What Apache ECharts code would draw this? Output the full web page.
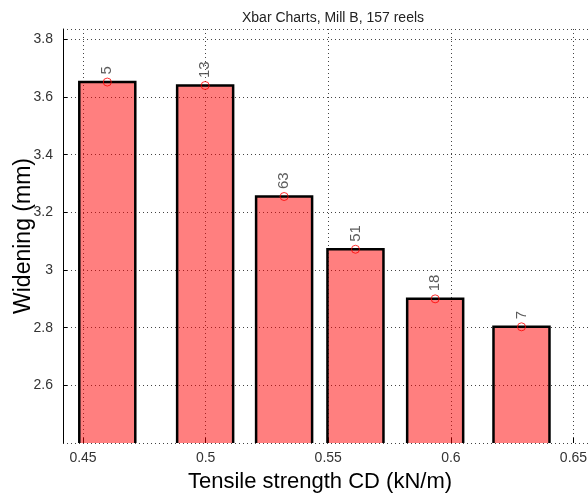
<!DOCTYPE html>
<html>
<head>
<meta charset="utf-8">
<script src="https://cdn.jsdelivr.net/npm/echarts@6/dist/echarts.min.js"></script>
<style>
html,body{margin:0;padding:0;background:#fff;}
#chart{width:588px;height:496px;}
</style>
</head>
<body>
<div id="chart"></div>
<script>
// Data
const CENTERS = [0.4599, 0.4998, 0.5320, 0.5611, 0.5936, 0.6288]; // Tensile strength CD (kN/m)
const MEANS   = [3.652, 3.640, 3.255, 3.072, 2.900, 2.803];       // Widening (mm)
const COUNTS  = [5, 13, 63, 51, 18, 7];                           // reels per bin
const TITLE   = 'Xbar Charts, Mill B, 157 reels';
const X_NAME  = 'Tensile strength CD (kN/m)';
const Y_NAME  = 'Widening (mm)';
const X_MIN = 0.44184, X_MAX = 0.66;
const Y_MIN = 2.4, Y_MAX = 3.836, Y_STEP = 0.2;

const BAR_W = 56; // px
const FONT = '"Liberation Sans", Arial, Helvetica, sans-serif';

const barData = CENTERS.map((c, i) => [c, MEANS[i]]);
const ptData = CENTERS.map((c, i) => [c, MEANS[i], COUNTS[i]]);

const chart = echarts.init(document.getElementById('chart'), null, {renderer: 'canvas'});
const gridLine = {show: true, lineStyle: {color: '#444', width: 1, type: [1, 3]}};

chart.setOption({
  animation: false,
  backgroundColor: '#fff',
  title: {
    text: TITLE, left: 328, top: 6, textAlign: 'center',
    textStyle: {fontFamily: FONT, fontSize: 14, fontWeight: 'normal', color: '#222'}
  },
  grid: {left: 63, top: 29, bottom: 53, right: -10, containLabel: false, outerBoundsMode: 'none'},
  xAxis: {
    type: 'value', min: X_MIN, max: X_MAX, splitNumber: 5,
    name: X_NAME, nameLocation: 'middle', nameGap: 28, nameMoveOverlap: false,
    nameTextStyle: {fontFamily: FONT, fontSize: 22, color: '#000', padding: [0, 21, 0, 0]},
    axisLine: {show: false},
    axisTick: {show: true, inside: true, length: 5, lineStyle: {color: '#000'}},
    axisLabel: {fontFamily: FONT, fontSize: 14, color: '#333', margin: 8,
      showMinLabel: false, showMaxLabel: false},
    splitLine: gridLine
  },
  yAxis: {
    type: 'value', min: Y_MIN, max: Y_MAX, interval: Y_STEP,
    name: Y_NAME, nameLocation: 'middle', nameGap: 28, nameMoveOverlap: false,
    nameTextStyle: {fontFamily: FONT, fontSize: 23, color: '#000'},
    axisLine: {show: true, lineStyle: {color: '#000', width: 1}},
    axisTick: {show: true, inside: true, length: 4, lineStyle: {color: '#000'}},
    axisLabel: {fontFamily: FONT, fontSize: 14, color: '#333', margin: 10,
      showMinLabel: false, showMaxLabel: false},
    splitLine: gridLine
  },
  series: [
    {
      type: 'custom',
      data: barData,
      z: 3,
      renderItem: function (params, api) {
        const top = api.coord([api.value(0), api.value(1)]);
        const base = api.coord([api.value(0), Y_MIN]);
        const hw = BAR_W / 2;
        const l = top[0] - hw, r = top[0] + hw;
        return {
          type: 'group',
          children: [
            {type: 'rect', shape: {x: l, y: top[1], width: BAR_W, height: base[1] - top[1]},
              style: {fill: 'rgba(255,0,0,0.5)'}},
            {type: 'polyline', shape: {points: [[l, base[1]], [l, top[1]], [r, top[1]], [r, base[1]]]},
              style: {stroke: '#000', lineWidth: 2.5, fill: null}}
          ]
        };
      }
    },
    {
      type: 'scatter',
      data: ptData,
      z: 4,
      symbol: 'circle',
      symbolSize: 8,
      itemStyle: {color: 'rgba(0,0,0,0)', borderColor: '#ff0000', borderWidth: 1},
      label: {
        show: true, position: 'top', distance: 3, rotate: 90,
        align: 'left', verticalAlign: 'middle',
        fontFamily: FONT, fontSize: 15, color: '#333',
        formatter: function (p) { return String(COUNTS[p.dataIndex]); }
      }
    }
  ]
});
</script>
</body>
</html>
